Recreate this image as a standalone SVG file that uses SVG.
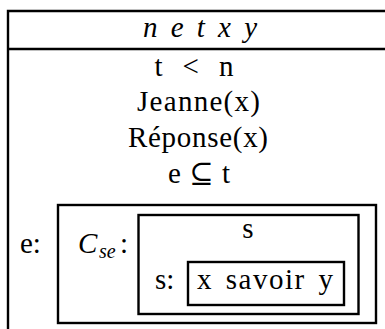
<svg xmlns="http://www.w3.org/2000/svg" width="385" height="329" viewBox="0 0 385 329">
<style>
.t{font-family:"Liberation Serif","Times New Roman","DejaVu Serif",serif;font-size:29px;fill:#000}
.i{font-style:italic}
.m{text-anchor:middle}
.sub{font-size:20px}
.b{fill:none;stroke:#000;stroke-width:2.4}
</style>
<rect width="385" height="329" fill="#fff"/>
<g id="frame">
<path class="b" d="M8 329 V11 M6.8 11 H385 M6.8 49 H385"/>
<text class="t i m" x="200" y="37" word-spacing="6" textLength="114" lengthAdjust="spacing">n e t x y</text>
</g>
<g id="conditions">
<text class="t m" x="194" y="76" word-spacing="12" textLength="79" lengthAdjust="spacing">t &lt; n</text>
<text class="t m" x="198.5" y="111" textLength="123" lengthAdjust="spacing">Jeanne(x)</text>
<text class="t m" x="198" y="147" textLength="140" lengthAdjust="spacing">Réponse(x)</text>
<text class="t m" x="199" y="183" word-spacing="6" textLength="62" lengthAdjust="spacing">e ⊆ t</text>
</g>
<g id="e-box">
<text class="t" x="20" y="253">e:</text>
<rect class="b" x="58" y="205" width="318" height="118"/>
<text class="t i" x="78" y="253">C</text>
<text class="t i sub" x="99" y="258">se</text>
<text class="t" x="120" y="253">:</text>
</g>
<g id="s-box">
<rect class="b" x="138.5" y="215" width="220" height="99"/>
<text class="t m" x="248" y="238">s</text>
<text class="t" x="155" y="289">s:</text>
</g>
<g id="savoir-box">
<rect class="b" x="188" y="262" width="156" height="43"/>
<text class="t m" x="265" y="289" word-spacing="4" textLength="136" lengthAdjust="spacing">x savoir y</text>
</g>
</svg>
